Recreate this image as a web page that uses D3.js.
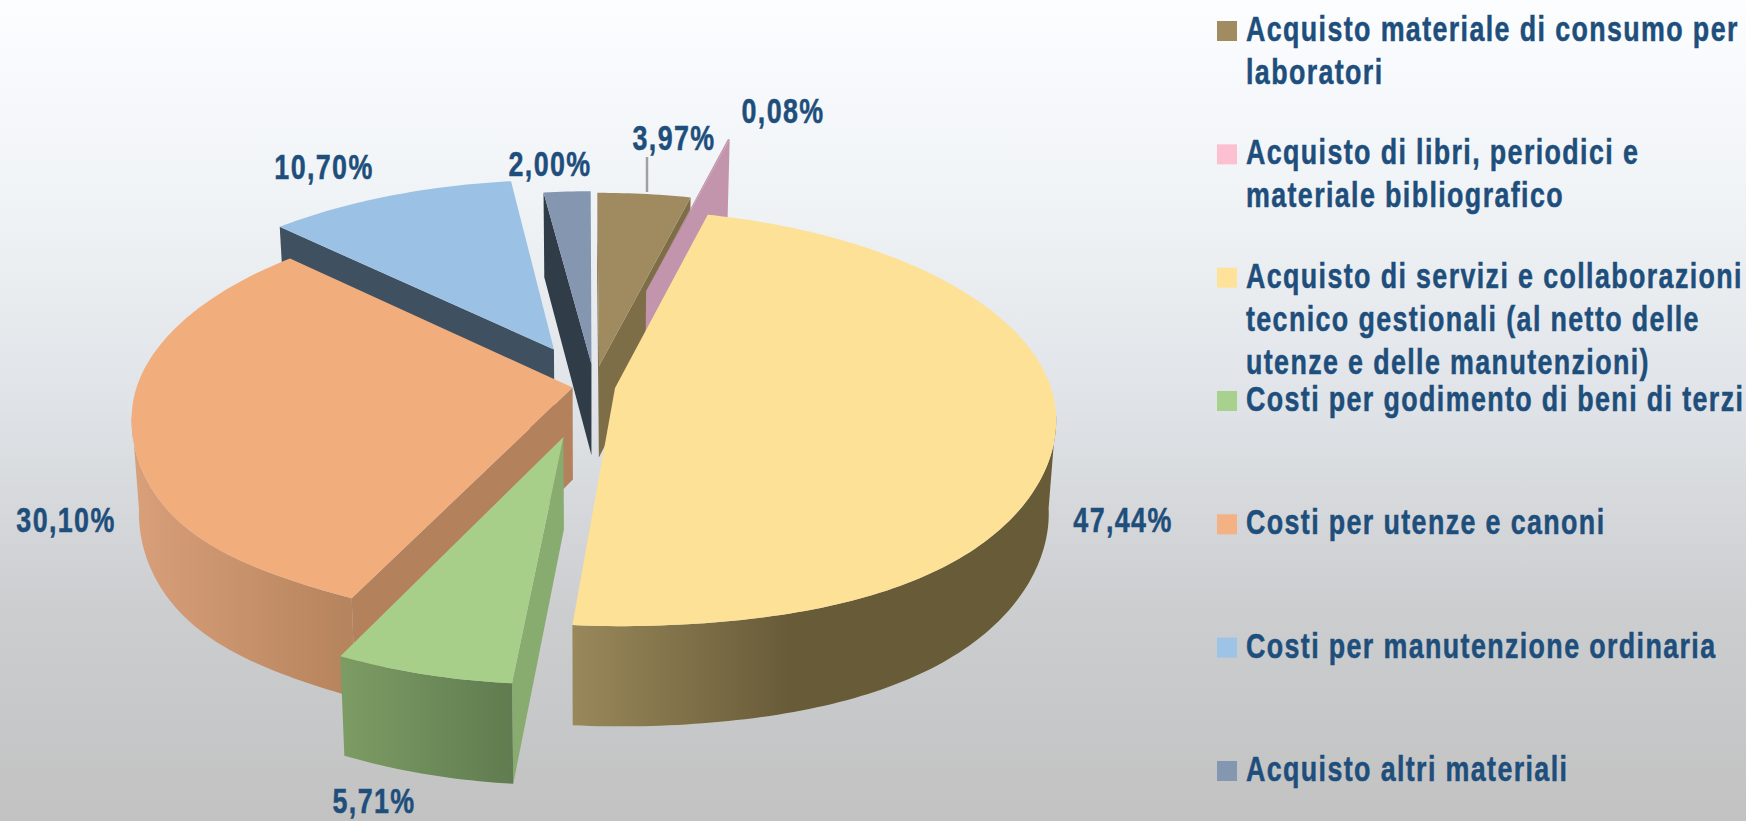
<!DOCTYPE html>
<html><head><meta charset="utf-8">
<style>html,body{margin:0;padding:0;background:#fff}svg{display:block}
text{font-family:"Liberation Sans",sans-serif;font-weight:700;fill:#1e4e7b;stroke:#1e4e7b;stroke-width:.5px;font-size:35px;letter-spacing:1.8px}</style>
<script src="https://cdnjs.cloudflare.com/ajax/libs/d3/7.8.5/d3.min.js"></script>
</head><body><svg id="c" width="1746" height="821"></svg>
<script>
// ---- data ----
const categories = [
  ["Acquisto materiale di consumo per","laboratori"],
  ["Acquisto di libri, periodici e","materiale bibliografico"],
  ["Acquisto di servizi e collaborazioni","tecnico gestionali (al netto delle","utenze e delle manutenzioni)"],
  ["Costi per godimento di beni di terzi"],
  ["Costi per utenze e canoni"],
  ["Costi per manutenzione ordinaria"],
  ["Acquisto altri materiali"]
];
const values = [3.97, 0.08, 47.44, 5.71, 30.10, 10.70, 2.00];
const valueLabels = ["3,97%","0,08%","47,44%","5,71%","30,10%","10,70%","2,00%"];

// ---- styles & layout ----
const topColors   = ["#a08b60","#c295ac","#fde196","#a8cf8a","#f2ad7c","#9bc2e4","#8496b0"];
const legendColors= ["#a08c60","#fcc0d0","#fee29a","#a9d18e","#f4b183","#9dc3e6","#8497b0"];
const radialWall  = ["#7d6e47","#c295ac","#8a7a50","#88ab6f","#b3815b","#3f5160","#303c47"];
const outerStops  = [["#7d6e47","#7d6e47"],["#c295ac","#c295ac"],["#99885a","#685b38"],["#7c9c64","#607c50"],["#d9a07a","#b6845e"],["#3f5160","#3f5160"],["#303c47","#303c47"]];
const outerRange  = [[599,693],[640,731],[572,790],[342,513],[132,345],[278,512],[544,591]];
const explodeU    = [0.0195,0.1365,0.056,-0.062,-0.0413,-0.0863,0.002];
const explodeV    = [0.099,0.50,-0.0095,-0.25,-0.0075,0.184,0.1097];
const drawOrder   = [0,1,6,5,4,3,2];
const labelPos    = [[674,150],[783,123],[1123,532],[374,813],[66,532],[324,179],[550,176]];
const leader      = [647,157,647,192];
const X0=590.6, Y0=386, R=436, Ry=203.6, K=0.144, START=-0.1*Math.PI/180;
const TAU=2*Math.PI, DEG=Math.PI/180;

const svg = d3.select("#c");
const defs = svg.append("defs");
const bg = defs.append("linearGradient").attr("id","bg").attr("x1",0).attr("x2",0).attr("y1",0).attr("y2",1);
[[0,"#fbfdff"],[.25,"#f0f3f6"],[.5,"#dfe2e6"],[.75,"#cbcdcf"],[1,"#c2c2c2"]]
  .forEach(s=>bg.append("stop").attr("offset",s[0]).attr("stop-color",s[1]));
svg.append("rect").attr("width",1746).attr("height",821).attr("fill","url(#bg)");

const arcs = d3.pie().sort(null).startAngle(START).endAngle(START+TAU)(values);

function project(u,v,ev){
  const w=1+K*(v+(ev<0?-0.9*ev:0));
  return {x:X0+R*u/w, y:Y0-Ry*v/w, w};
}
function bulge(t){
  const d=((t/DEG)%360+360)%360;
  if(d>90&&d<180) return 9*Math.pow(Math.sin(2*t),2);
  if(d>205&&d<270) return 9*Math.pow(Math.sin(Math.PI*(d-205)/65),2);
  return 0;
}
function lower(p){ return {x:p.x+(X0-p.x)*0.016, y:p.y+92*Math.pow(p.w,-0.55)}; }
const line = d3.line().x(d=>d.x).y(d=>d.y);

arcs.forEach((a,i)=>{
  const g = defs.append("linearGradient").attr("id","w"+i).attr("gradientUnits","userSpaceOnUse")
    .attr("x1",outerRange[i][0]).attr("x2",outerRange[i][1]).attr("y1",0).attr("y2",0);
  g.append("stop").attr("offset",0).attr("stop-color",outerStops[i][0]);
  g.append("stop").attr("offset",1).attr("stop-color",outerStops[i][1]);
});

const layer = svg.append("g");
drawOrder.forEach(i=>{
  const a = arcs[i];
  const eu=explodeU[i], ev=explodeV[i];
  const apex = project(eu,ev,ev);
  const n = Math.max(2,Math.ceil((a.endAngle-a.startAngle)/DEG));
  const rim = d3.range(n+1).map(j=>{
    const t=a.startAngle+(a.endAngle-a.startAngle)*j/n;
    const p=project(eu+Math.sin(t),ev+Math.cos(t),ev);
    p.y+=bulge(t); p.t=t;
    return p;
  });
  const first=rim[0], last=rim[rim.length-1];
  const poly=(pts,fill)=>layer.append("path").attr("d",line(pts)+"Z").attr("fill",fill);
  if(Math.sin(a.endAngle)>0) poly([apex,last,lower(last),lower(apex)],radialWall[i]);
  if(Math.sin(a.startAngle)<0) poly([apex,first,lower(first),lower(apex)],radialWall[i]);
  const front = rim.filter(p=>Math.cos(p.t)<-K+0.02);
  if(front.length>1) poly(front.concat(front.slice().reverse().map(lower)),"url(#w"+i+")");
  poly([apex].concat(rim),topColors[i]);
});

svg.append("line").attr("x1",leader[0]).attr("y1",leader[1]).attr("x2",leader[2]).attr("y2",leader[3])
  .attr("stroke","#a0a0a0").attr("stroke-width",2.5);

const ly = d3.scalePoint().domain(categories.map((c,i)=>i)).range([31,771]);
const leg = svg.append("g").selectAll("g").data(categories).join("g")
  .attr("transform",(d,i)=>`translate(0,${ly(i)})`);
leg.append("rect").attr("x",1217).attr("y",-10).attr("width",20).attr("height",20).attr("fill",(d,i)=>legendColors[i]);
leg.each(function(lines){
  d3.select(this).selectAll("text").data(lines).join("text").attr("class","lt")
    .attr("transform",(d,j)=>`translate(1246,${10+j*43})`).text(d=>d);
});
const ref = svg.select("text.lt").node();
const sx = 493/ref.getComputedTextLength();
leg.selectAll("text.lt").attr("transform",(d,j)=>`translate(1246,${10+j*43}) scale(${sx},1)`);

svg.append("g").selectAll("text").data(valueLabels).join("text")
  .attr("text-anchor","middle")
  .attr("transform",(d,i)=>`translate(${labelPos[i][0]},${labelPos[i][1]}) scale(${sx},1)`).text(d=>d);
</script></body></html>
